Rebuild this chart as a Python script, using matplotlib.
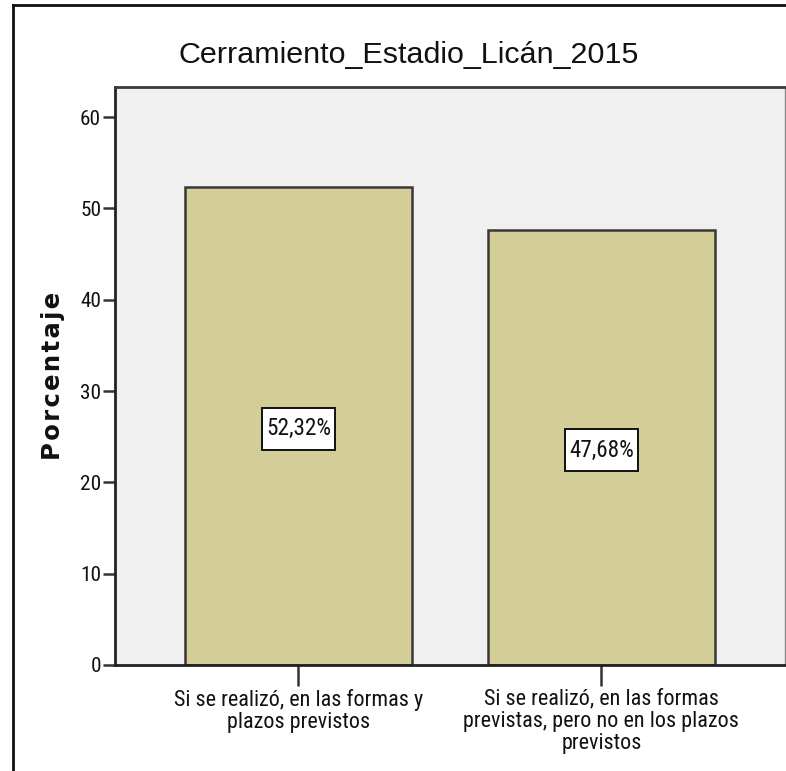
import matplotlib
matplotlib.use("Agg")
import matplotlib.pyplot as plt
from matplotlib import font_manager
from matplotlib.lines import Line2D
from matplotlib.patches import Rectangle

categories = [
    "Si se realizó, en las formas y\nplazos previstos",
    "Si se realizó, en las formas\nprevistas, pero no en los plazos\nprevistos",
]
percentages = [52.32, 47.68]
value_labels = ["52,32%", "47,68%"]
y_ticks = [0, 10, 20, 30, 40, 50, 60]
title = "Cerramiento_Estadio_Licán_2015"
y_label = "Porcentaje"

available = {f.name for f in font_manager.fontManager.ttflist}


def first_family(candidates):
    for name in candidates:
        if name in available:
            return name
    return "DejaVu Sans"


narrow = first_family(["Liberation Sans Narrow", "Arial Narrow", "Roboto Condensed",
                       "PT Sans Narrow", "Archivo Narrow", "Pragati Narrow",
                       "Liberation Sans"])
regular = first_family(["Liberation Sans", "Arimo", "DejaVu Sans"])
wide_bold = first_family(["DejaVu Sans", "Liberation Sans"])

fig = plt.figure(figsize=(7.86, 7.71), dpi=100)
renderer = fig.canvas.get_renderer()


def text_width(s, family, size, weight="normal"):
    t = fig.text(0, 0, s, family=family, fontsize=size, fontweight=weight)
    w = t.get_window_extent(renderer).width
    t.remove()
    return w


def fitted_size(s, family, target_px, weight="normal", ref=20.0):
    """Font size at which string s is target_px pixels wide."""
    return ref * target_px / text_width(s, family, ref, weight)


def spacing_for(family, size, step_px):
    """linespacing value giving a baseline-to-baseline step of step_px."""
    t1 = fig.text(0, 0, "l", family=family, fontsize=size)
    t2 = fig.text(0, 0, "l\nl", family=family, fontsize=size, linespacing=1.0)
    step = t2.get_window_extent(renderer).height - t1.get_window_extent(renderer).height
    t1.remove()
    t2.remove()
    return step_px / step


xlab_size = fitted_size(categories[0].split("\n")[0], narrow, 249)
xlab_spacing = spacing_for(narrow, xlab_size, 22.5)
ytick_size = fitted_size(str(y_ticks[-1]), narrow, 21)
value_size = fitted_size(value_labels[0], narrow, 65)
title_size = fitted_size(title, regular, 460)

# axis title: wide bold face, letter-spaced with hair spaces to its drawn length
ylab_size = 17.5
ylab_text = y_label
for n in range(1, 4):
    candidate = ("\u200a" * n).join(y_label)
    if abs(text_width(candidate, wide_bold, ylab_size, "bold") - 178) < \
            abs(text_width(ylab_text, wide_bold, ylab_size, "bold") - 178):
        ylab_text = candidate

ax = fig.add_axes([115 / 786, 106 / 771, 670 / 786, 578 / 771])
ax.set_facecolor("#f0f0f0")

x = list(range(len(categories)))
ax.bar(x, percentages, width=0.75, color="#d3ce97", edgecolor="#383838",
       linewidth=1.8, zorder=2)

ax.set_xlim(-0.605, 1.606)
ax.set_ylim(0, 63.3)
ax.set_yticks(y_ticks)
ax.set_xticks(x)
ax.set_xticklabels(categories, family=narrow, fontsize=xlab_size,
                   linespacing=xlab_spacing, color="#111111")
for t in ax.get_yticklabels():
    t.set_family(narrow)
    t.set_fontsize(ytick_size)
    t.set_color("#111111")
ax.tick_params(axis="y", direction="out", length=9, width=1.8, color="#333333", pad=1)
ax.tick_params(axis="x", direction="out", length=15, width=1.8, color="#333333", pad=2)

for side in ("left", "bottom"):
    ax.spines[side].set_color("#222222")
    ax.spines[side].set_linewidth(2)
ax.spines["top"].set_color("#3a3a3a")
ax.spines["top"].set_linewidth(2)
ax.spines["right"].set_color("#8a8a8a")
ax.spines["right"].set_linewidth(1)

# value labels in white framed boxes at mid-height of each bar
value_texts = []
for xi, v, lab in zip(x, percentages, value_labels):
    value_texts.append(ax.text(xi, v / 2 - 0.3, lab, ha="center", va="center",
                               fontsize=value_size, family=narrow, color="#111111",
                               zorder=5))
fig.canvas.draw()
to_data = ax.transData.inverted()
for t in value_texts:
    bb = t.get_window_extent(renderer)
    cx, cy = (bb.x0 + bb.x1) / 2, (bb.y0 + bb.y1) / 2
    w, h = bb.width + 8, 42
    (x0, y0) = to_data.transform((cx - w / 2, cy - h / 2))
    (x1, y1) = to_data.transform((cx + w / 2, cy + h / 2))
    ax.add_patch(Rectangle((x0, y0), x1 - x0, y1 - y0, facecolor="white",
                           edgecolor="#111111", linewidth=1.4, zorder=4))

fig.text(409 / 786, 1 - 63 / 771, title, family=regular, fontsize=title_size,
         ha="center", va="baseline", color="#111111")
fig.text(53 / 786, 1 - 376 / 771, ylab_text, family=wide_bold, fontsize=ylab_size,
         fontweight="bold", rotation=90, ha="center", va="center", color="#111111")

# outer frame: left and top rule
fig.add_artist(Line2D([13 / 786, 13 / 786], [0, 1 - 5 / 771], transform=fig.transFigure,
                      color="#111111", lw=2))
fig.add_artist(Line2D([13 / 786, 1], [1 - 5 / 771, 1 - 5 / 771], transform=fig.transFigure,
                      color="#111111", lw=2))

fig.savefig("out.png", dpi=100)
